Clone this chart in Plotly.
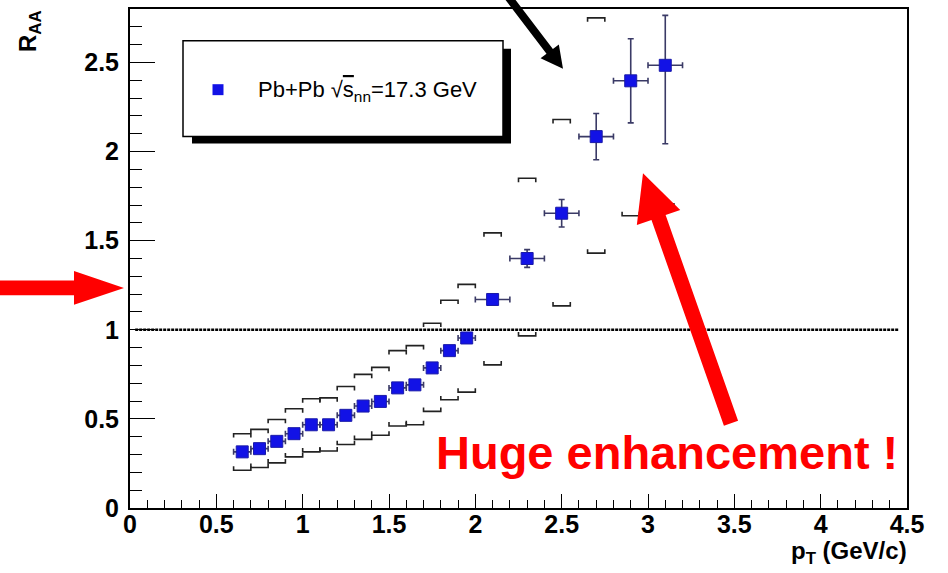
import math
import plotly.graph_objects as go

# Pb+Pb at sqrt(s_NN) = 17.3 GeV : nuclear modification factor vs pT
pt = [0.65, 0.75, 0.85, 0.95, 1.05, 1.15, 1.25, 1.35, 1.45, 1.55,
      1.65, 1.75, 1.85, 1.95, 2.1, 2.3, 2.5, 2.7, 2.9, 3.1]
raa = [0.315, 0.333, 0.374, 0.417, 0.467, 0.467, 0.52, 0.572, 0.598, 0.674,
       0.691, 0.786, 0.883, 0.954, 1.17, 1.40, 1.654, 2.084, 2.397, 2.484]
pt_err = [0.05] * 14 + [0.1] * 6
stat_up = [0.01] * 15 + [0.05, 0.077, 0.13, 0.236, 0.28]
stat_down = [0.01] * 15 + [0.05, 0.077, 0.13, 0.236, 0.44]
# systematic band edges (upper / lower brackets)
sys_up = [0.417, 0.441, 0.497, 0.557, 0.613, 0.618, 0.682, 0.75, 0.789, 0.883,
          0.911, 1.037, 1.166, 1.255, 1.544, 1.85, 2.18, 2.75, None, None]
sys_down = [0.212, 0.227, 0.253, 0.287, 0.315, 0.32, 0.356, 0.385, 0.408, 0.46,
            0.467, 0.542, 0.607, 0.65, 0.803, 0.966, 1.134, 1.43, 1.64, 1.69]

x_ticks = [0, 0.5, 1, 1.5, 2, 2.5, 3, 3.5, 4, 4.5]
y_ticks = [0, 0.5, 1, 1.5, 2, 2.5]
legend_label = "Pb+Pb √<span style='text-decoration:overline'>s</span><sub>nn</sub>=17.3 GeV"
note_text = "Huge enhancement !"

# figure geometry (pixels)
W_FIG, H_FIG = 948, 573
PL, PR, PT, PB = 130, 907, 7, 508
PW, PH = PR - PL, PB - PT

BRACKET_HALF = 0.05
BRACKET_TICK = 0.022


def px(x):
    return (x - PL) / PW


def py(y):
    return (PB - y) / PH


def arrow_path(tail, tip, shaft_w, head_len, head_w):
    dx, dy = tip[0] - tail[0], tip[1] - tail[1]
    L = math.hypot(dx, dy)
    ux, uy = dx / L, dy / L
    nx, ny = -uy, ux
    bx, by = tip[0] - ux * head_len, tip[1] - uy * head_len
    pts = [
        (tail[0] + nx * shaft_w / 2, tail[1] + ny * shaft_w / 2),
        (bx + nx * shaft_w / 2, by + ny * shaft_w / 2),
        (bx + nx * head_w / 2, by + ny * head_w / 2),
        tip,
        (bx - nx * head_w / 2, by - ny * head_w / 2),
        (bx - nx * shaft_w / 2, by - ny * shaft_w / 2),
        (tail[0] - nx * shaft_w / 2, tail[1] - ny * shaft_w / 2),
    ]
    return "M " + " L ".join(f"{px(a):.5f},{py(b):.5f}" for a, b in pts) + " Z"


def bracket_xy(xs, ys, sign):
    bx, by = [], []
    for x, y in zip(xs, ys):
        if y is None:
            continue
        bx += [x - BRACKET_HALF, x - BRACKET_HALF, x + BRACKET_HALF, x + BRACKET_HALF, None]
        by += [y - sign * BRACKET_TICK, y, y, y - sign * BRACKET_TICK, None]
    return bx, by


fig = go.Figure()

ux_, uy_ = bracket_xy(pt, sys_up, 1)
lx_, ly_ = bracket_xy(pt, sys_down, -1)
for bx, by in ((ux_, uy_), (lx_, ly_)):
    fig.add_trace(go.Scatter(x=bx, y=by, mode="lines",
                             line=dict(color="#222222", width=1.6),
                             hoverinfo="skip", showlegend=False))

fig.add_trace(go.Scatter(
    x=pt, y=raa, mode="markers",
    marker=dict(symbol="square", size=12, color="#1212e6",
                line=dict(color="#1a1aa8", width=1)),
    error_x=dict(type="data", array=pt_err, color="#3a3a66", thickness=1.6, width=3),
    error_y=dict(type="data", array=stat_up, arrayminus=stat_down,
                 color="#3a3a66", thickness=1.6, width=3),
    showlegend=False,
))

shapes = [
    # reference line at R_AA = 1
    dict(type="line", xref="x", yref="y", x0=0.03, x1=4.45, y0=1, y1=1,
         line=dict(color="black", width=2.5, dash="3px,1px"), layer="below"),
    # legend box with drop shadow
    dict(type="rect", xref="paper", yref="paper",
         x0=px(192), x1=px(511), y0=py(142), y1=py(47),
         fillcolor="black", line=dict(width=0)),
    dict(type="rect", xref="paper", yref="paper",
         x0=px(183), x1=px(503), y0=py(135), y1=py(39),
         fillcolor="white", line=dict(color="black", width=1.5)),
    dict(type="rect", xref="paper", yref="paper",
         x0=px(212.5), x1=px(223.5), y0=py(93.5), y1=py(82.5),
         fillcolor="#1212e6", line=dict(width=0)),
    # arrows
    dict(type="path", xref="paper", yref="paper",
         path=arrow_path((503, -12), (563, 67), 8, 22, 23),
         fillcolor="black", line=dict(width=0)),
    dict(type="path", xref="paper", yref="paper",
         path=arrow_path((-5, 287), (124, 287), 15, 50, 34),
         fillcolor="#ff0000", line=dict(width=0)),
    dict(type="path", xref="paper", yref="paper",
         path=arrow_path((731, 423), (643, 172), 15, 47, 46),
         fillcolor="#ff0000", line=dict(width=0)),
]

annotations = [
    dict(text=legend_label, xref="paper", yref="paper", x=px(256), y=py(89),
         xanchor="left", yanchor="middle", showarrow=False,
         font=dict(family="Liberation Sans, Arial", size=22, color="black")),
    dict(text=note_text, xref="paper", yref="paper", x=px(667), y=py(452),
         xanchor="center", yanchor="middle", showarrow=False,
         font=dict(family="Liberation Sans, Arial", size=47, color="#ff0000", weight="bold")),
    dict(text="R<sub>AA</sub>", xref="paper", yref="paper", x=px(29), y=py(6),
         xanchor="center", yanchor="top", textangle=-90, showarrow=False,
         font=dict(family="Liberation Sans, Arial", size=24, color="black", weight="bold")),
    dict(text="p<sub>T</sub> (GeV/c)", xref="paper", yref="paper", x=px(909), y=py(553),
         xanchor="right", yanchor="middle", showarrow=False,
         font=dict(family="Liberation Sans, Arial", size=24, color="black", weight="bold")),
]

tick_font = dict(family="Liberation Sans, Arial", size=25, color="black", weight="bold")

fig.update_layout(
    width=W_FIG, height=H_FIG,
    margin=dict(l=PL, r=W_FIG - PR, t=PT, b=H_FIG - PB, pad=0),
    paper_bgcolor="white", plot_bgcolor="white",
    shapes=shapes, annotations=annotations,
    xaxis=dict(range=[0, 4.5], tickvals=x_ticks, ticktext=[f"{v:g}" for v in x_ticks],
               ticks="inside", ticklen=14, tickwidth=1.2, tickcolor="black",
               minor=dict(dtick=0.1, ticks="inside", ticklen=8, tickwidth=1.2, tickcolor="black"),
               showline=True, linecolor="black", linewidth=2, mirror=True,
               showgrid=False, zeroline=False, tickfont=tick_font, ticklabelstandoff=-7),
    yaxis=dict(range=[0, 2.8], tickvals=y_ticks, ticktext=[f"{v:g}" for v in y_ticks],
               ticks="inside", ticklen=25, tickwidth=1.2, tickcolor="black",
               minor=dict(dtick=0.1, ticks="inside", ticklen=12, tickwidth=1.2, tickcolor="black"),
               showline=True, linecolor="black", linewidth=2, mirror=True,
               showgrid=False, zeroline=False, tickfont=tick_font, ticklabelstandoff=4),
)

fig.write_html("out.html")
